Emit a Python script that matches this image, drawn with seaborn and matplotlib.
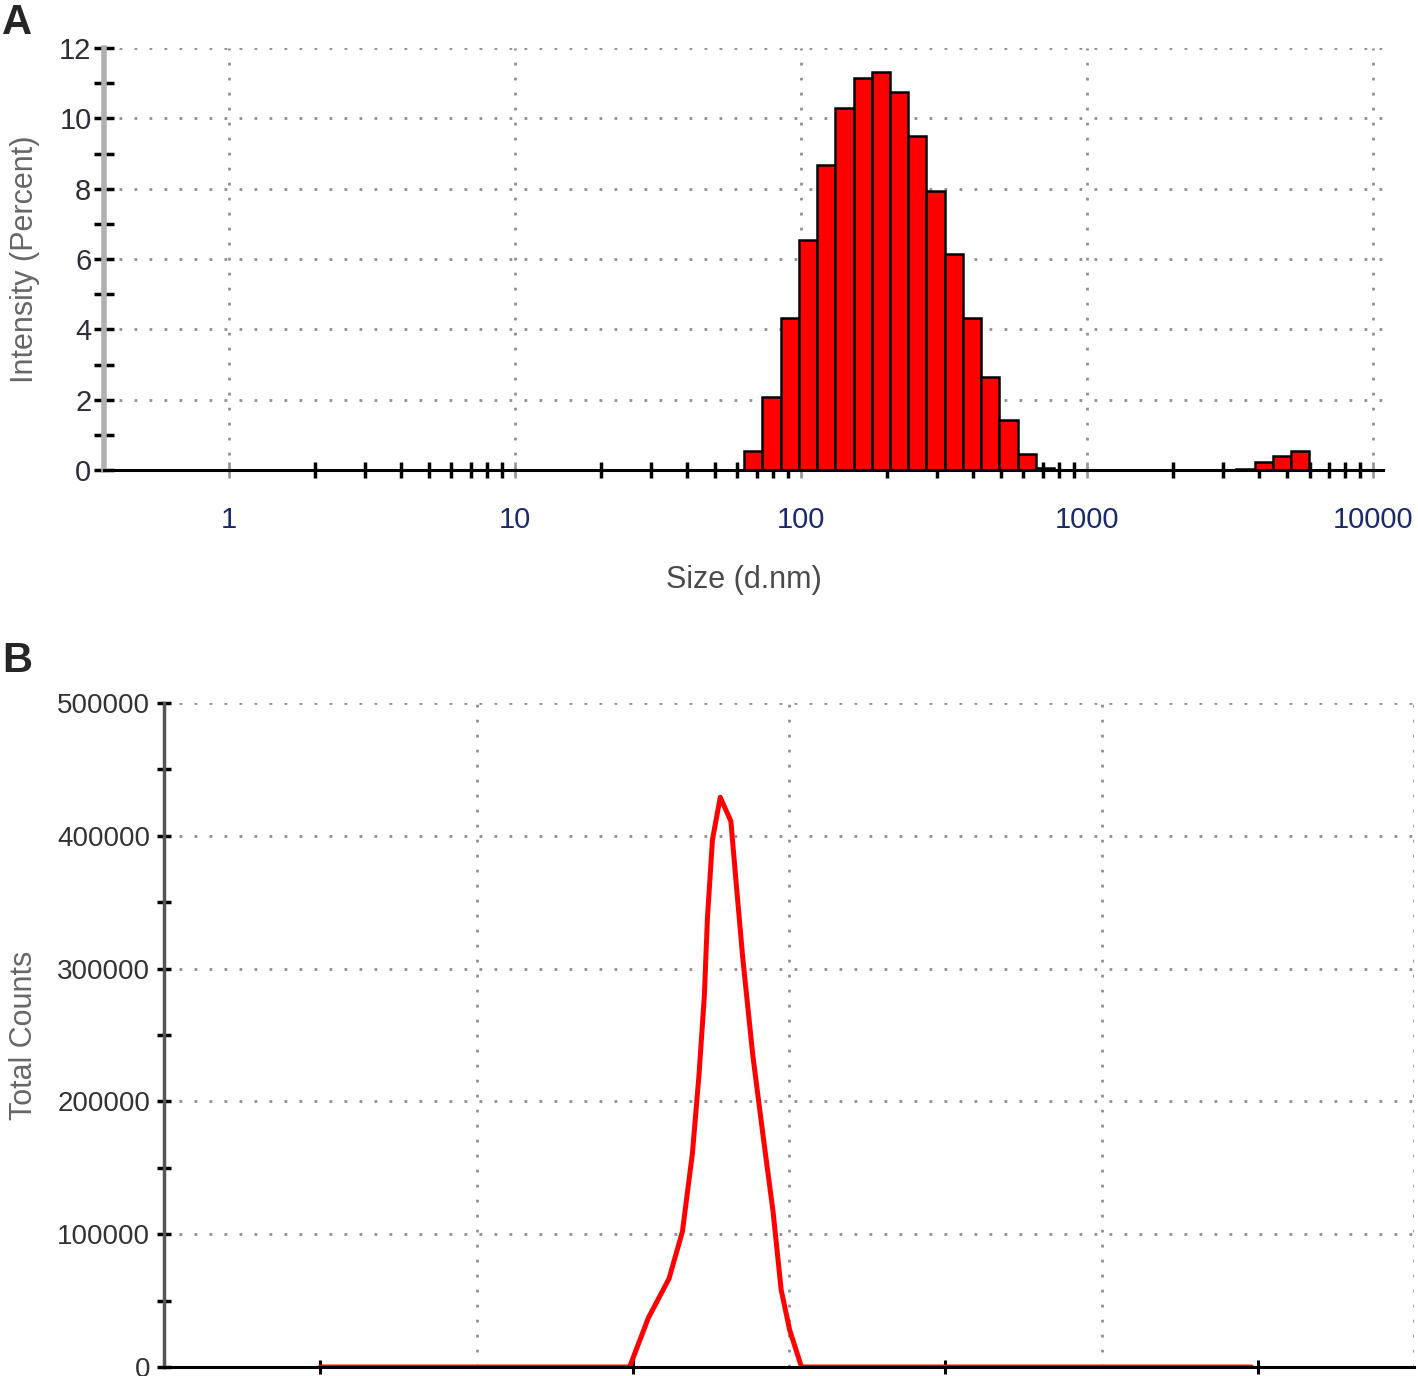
import numpy as np
import pandas as pd
import seaborn as sns
import matplotlib.pyplot as plt
from matplotlib.ticker import FixedLocator, NullFormatter

# Panel A: intensity size distribution (class centres in d.nm, intensity in %)
SIZES_MAIN = [68.06, 78.82, 91.28, 105.7, 122.4, 141.8, 164.2, 190.1, 220.2,
              255.0, 295.3, 342.0, 396.1, 458.7, 531.2, 615.1, 712.4]
INT_MAIN = [0.55, 2.09, 4.31, 6.54, 8.67, 10.3, 11.16, 11.31, 10.74,
            9.51, 7.93, 6.13, 4.31, 2.65, 1.42, 0.45, 0.05]
SIZES_AGG = [3580, 4145, 4801, 5560]
INT_AGG = [0.03, 0.23, 0.40, 0.55]
A_XTICKS = [1, 10, 100, 1000, 10000]
A_XTICKLABELS = ['1', '10', '100', '1000', '10000']
A_YTICKS = [0, 2, 4, 6, 8, 10, 12]

# Panel B: total counts trace
B_X = [0.5, 1.49, 1.55, 1.616, 1.659, 1.691, 1.712, 1.729, 1.739, 1.755, 1.78,
       1.814, 1.83, 1.852, 1.884, 1.916, 1.949, 1.975, 2.002, 2.04, 3.48]
B_Y = [0, 0, 37000, 66500, 102000, 161000, 220000, 279000, 338000, 397000, 429000,
       411000, 367000, 308000, 235000, 176000, 117000, 58000, 28000, 0, 0]
B_YTICKS = [0, 100000, 200000, 300000, 400000, 500000]
B_YTICKLABELS = ['0', '100000', '200000', '300000', '400000', '500000']

W, H = 1418, 1376
LOG_STEP = np.log10(10000 / 0.4) / 70  # Malvern size class width (decades)

sns.set_style('white')
plt.rcParams['font.family'] = ['Liberation Sans', 'DejaVu Sans']

grid_kw = dict(color='#8f8f8f', linestyle=(0, (1, 4.4)), linewidth=2)


def log_edges(centres):
    # bin edges in log10 space, half a class either side of each centre
    lc = np.log10(centres)
    return np.append(lc - LOG_STEP / 2, lc[-1] + LOG_STEP / 2).tolist()


fig = plt.figure(figsize=(W / 100, H / 100), dpi=100)
axA = fig.add_axes([104 / W, 1 - 470 / H, (1383 - 104) / W, (470 - 48) / H])
axB = fig.add_axes([164 / W, 1 - 1367 / H, (1414 - 164) / W, (1367 - 703) / H])

# ---- Panel A
for sizes, vals in [(SIZES_MAIN, INT_MAIN), (SIZES_AGG, INT_AGG)]:
    df = pd.DataFrame({'size': sizes, 'intensity': vals})
    sns.histplot(data=df, x='size', weights='intensity', bins=log_edges(sizes),
                 log_scale=True, color='#ff0000', alpha=1, edgecolor='black',
                 linewidth=1.8, ax=axA)

axA.set_xlim(0.366, 10840)
axA.set_ylim(0, 12)
axA.set_xticks(A_XTICKS)
axA.set_xticklabels(A_XTICKLABELS)
# minor ticks only from 1 upwards, as the instrument software draws them
axA.xaxis.set_minor_locator(FixedLocator([k * 10 ** d for d in range(4) for k in range(2, 10)]))
axA.xaxis.set_minor_formatter(NullFormatter())
axA.set_yticks(A_YTICKS)
axA.yaxis.set_minor_locator(FixedLocator([1, 3, 5, 7, 9, 11]))
axA.grid(True, which='major', **grid_kw)
axA.tick_params(axis='x', which='major', bottom=True, direction='inout', length=12,
                width=2, color='#9a9a9a', labelsize=21, labelcolor='#1c2a6b', pad=20)
axA.tick_params(axis='x', which='minor', bottom=True, direction='inout', length=12,
                width=2.5, color='black')
axA.tick_params(axis='y', which='both', left=True, direction='inout', length=14,
                width=2.5, color='black', labelsize=21, labelcolor='#2e2e38', pad=2)
for s in ['top', 'right']:
    axA.spines[s].set_visible(False)
axA.spines['left'].set_color('#b0b0b0')
axA.spines['left'].set_linewidth(4)
axA.spines['bottom'].set_color('black')
axA.spines['bottom'].set_linewidth(2.2)
axA.set_xlabel('Size (d.nm)', fontsize=22, color='#4a4a4a')
axA.set_ylabel('Intensity (Percent)', fontsize=22, color='#666666')
axA.xaxis.set_label_coords(0.5, -0.225)
axA.yaxis.set_label_coords(-0.05, 0.5)

# ---- Panel B
sns.lineplot(x=B_X, y=B_Y, color='#ff0000', linewidth=3.6, ax=axB)
axB.set_xlim(0, 4)
axB.set_ylim(0, 500000)
axB.set_xticks([0.5, 1.5, 2.5, 3.5])
axB.set_xticklabels([])
axB.xaxis.set_minor_locator(FixedLocator([1, 2, 3, 4]))
axB.set_yticks(B_YTICKS)
axB.set_yticklabels(B_YTICKLABELS)
axB.yaxis.set_minor_locator(FixedLocator([50000, 150000, 250000, 350000, 450000]))
axB.grid(True, which='major', axis='y', **grid_kw)
axB.grid(True, which='minor', axis='x', **grid_kw)
axB.tick_params(axis='x', which='major', bottom=True, direction='inout', length=10,
                width=2.2, color='black')
axB.tick_params(axis='x', which='minor', bottom=False, length=0)
axB.tick_params(axis='y', which='both', left=True, direction='inout', length=10,
                width=2.5, color='black', labelsize=20, labelcolor='#333333', pad=5)
for s in ['top', 'right']:
    axB.spines[s].set_visible(False)
axB.spines['left'].set_color('#555555')
axB.spines['left'].set_linewidth(2.5)
axB.spines['bottom'].set_color('black')
axB.spines['bottom'].set_linewidth(2.2)
axB.set_xlabel('')
axB.set_ylabel('Total Counts', fontsize=22, color='#666666')
axB.yaxis.set_label_coords(-0.1, 0.5)

fig.text(2 / W, 1 - 3 / H, 'A', fontsize=30, fontweight='bold', va='top', ha='left')
fig.text(2 / W, 1 - 641 / H, 'B', fontsize=30, fontweight='bold', va='top', ha='left')

fig.savefig('out.png', dpi=100)
